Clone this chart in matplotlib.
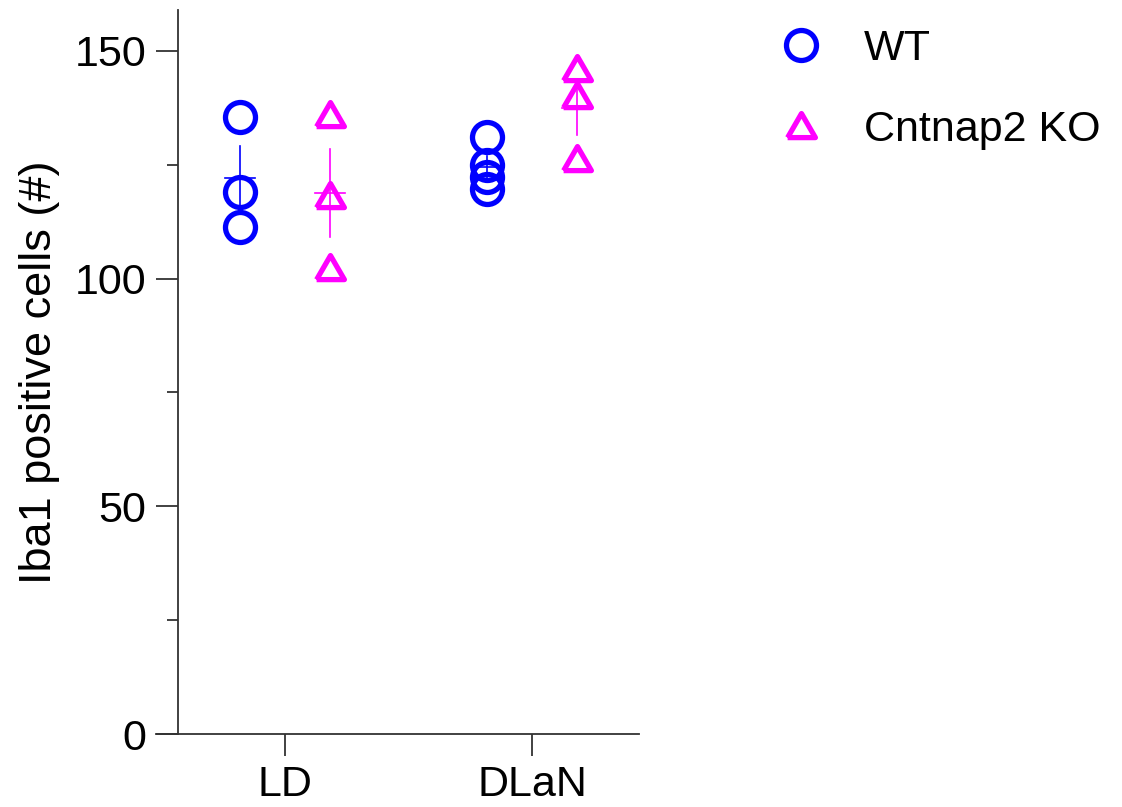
import numpy as np
import matplotlib
matplotlib.use("Agg")
import matplotlib.pyplot as plt
from matplotlib.markers import MarkerStyle
from matplotlib.lines import Line2D

plt.rcParams['font.family'] = ['Liberation Sans', 'DejaVu Sans']

categories = ["LD", "DLaN"]
groups = ["WT", "Cntnap2 KO"]
wt_values = [[135.5, 119.1, 111.4], [131.0, 125.0, 122.3, 119.7]]
ko_values = [[136.0, 118.2, 102.3], [146.0, 140.2, 126.3]]
yticks = [0, 50, 100, 150]
minor_yticks = [25, 75, 125]

blue = "#0000FF"
magenta = "#FF00FF"

fig = plt.figure(figsize=(11.22, 8.07), dpi=100)
ax = fig.add_axes([156/1122, 73/807, (639-156)/1122, (734-10)/807])

tri = MarkerStyle([(-1, -0.8), (1, -0.8), (0, 0.93), (-1, -0.8)], joinstyle='round')
circ = MarkerStyle('o')

offset = 0.182
series = [(wt_values, -offset, circ, blue, 21.6), (ko_values, offset, tri, magenta, 20)]
for vals_list, off, mk, col, ms in series:
    for i, vals in enumerate(vals_list):
        v = np.array(vals)
        x = i + off
        m = v.mean()
        sem = v.std(ddof=1) / np.sqrt(len(v))
        ax.plot([x]*len(v), v, linestyle='none', marker=mk, markersize=ms,
                markerfacecolor='none', markeredgecolor=col, markeredgewidth=3.8, zorder=3)
        ax.plot([x - 0.06, x + 0.06], [m, m], color=col, lw=1.2, zorder=4)
        ax.plot([x, x], [m - sem, m + sem], color=col, lw=1.2, zorder=4)

ax.set_xlim(-0.522, 1.433)
ax.set_ylim(0, 159)
for s in ['top', 'right']:
    ax.spines[s].set_visible(False)
ax.spines['left'].set_position(('data', -0.433))
ax.spines['left'].set_linewidth(1.3)
ax.spines['bottom'].set_linewidth(1.3)
ax.spines['left'].set_color('#333333')
ax.spines['bottom'].set_color('#333333')

ax.set_xticks([0, 1])
ax.set_xticklabels(categories)
ax.set_yticks(yticks)
ax.set_yticks(minor_yticks, minor=True)
ax.tick_params(axis='both', which='major', length=16, width=1.3, color='#333333',
               labelsize=31, pad=7)
ax.tick_params(axis='x', which='major', pad=6)
ax.tick_params(axis='y', which='minor', length=8, width=1.3, color='#333333')
ax.set_ylabel("Iba1 positive cells (#)", fontsize=32.5, labelpad=10)
ax.yaxis.label.set_position((0, 1 - (372 - 10) / 724))

handles = [Line2D([], [], linestyle='none', marker=circ, markersize=21.6, markerfacecolor='none',
                  markeredgecolor=blue, markeredgewidth=3.8),
           Line2D([], [], linestyle='none', marker=tri, markersize=20, markerfacecolor='none',
                  markeredgecolor=magenta, markeredgewidth=3.8)]
fig.legend(handles, groups, loc='upper left', bbox_to_anchor=(751/1122, 1 - 12/807),
           frameon=False, fontsize=31, handletextpad=0.72, labelspacing=0.95, handlelength=1.5,
           borderaxespad=0)

fig.savefig("out.png", dpi=100)
